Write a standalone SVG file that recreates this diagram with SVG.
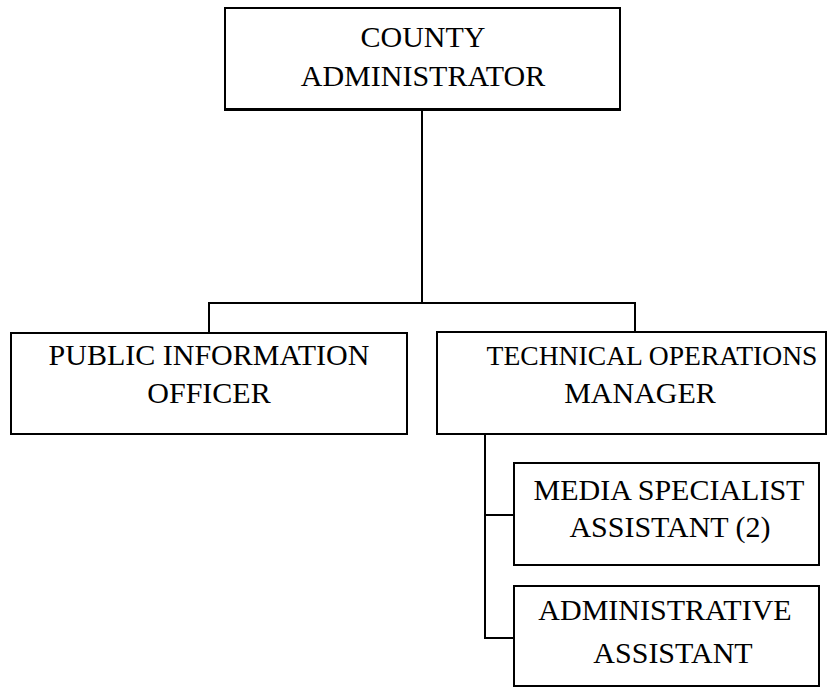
<svg xmlns="http://www.w3.org/2000/svg" width="827" height="688" viewBox="0 0 827 688">
  <style>
    .box { fill: #ffffff; stroke: #000000; stroke-width: 2; }
    .lbl { font-family: "Liberation Serif", "Times New Roman", serif; font-size: 30px; fill: #000000; text-anchor: middle; }
    .tight { font-size: 27.6px; }
    .wire { fill: none; stroke: #000000; stroke-width: 2; }
  </style>
  <rect width="827" height="688" fill="#ffffff"/>

  <!-- reporting lines -->
  <g id="connectors">
    <path class="wire" d="M422 110 V303"/>
    <path class="wire" d="M209 333 V303 H635 V332"/>
    <path class="wire" d="M485 434 V638 H514"/>
    <path class="wire" d="M485 515 H514"/>
  </g>

  <g id="county-administrator">
    <rect class="box" x="225" y="8" width="395" height="101"/>
    <line x1="224" y1="109.5" x2="621" y2="109.5" stroke="#000" stroke-width="3"/>
    <text class="lbl" x="423" y="47">COUNTY</text>
    <text class="lbl" x="423" y="86">ADMINISTRATOR</text>
  </g>

  <g id="public-information-officer">
    <rect class="box" x="11" y="333" width="396" height="101"/>
    <text class="lbl" x="209" y="365">PUBLIC INFORMATION</text>
    <text class="lbl" x="209" y="403">OFFICER</text>
  </g>

  <g id="technical-operations-manager">
    <rect class="box" x="437" y="332" width="389" height="102"/>
    <text class="lbl tight" x="652" y="365">TECHNICAL OPERATIONS</text>
    <text class="lbl" x="640" y="403">MANAGER</text>
  </g>

  <g id="media-specialist-assistant">
    <rect class="box" x="514" y="463" width="305" height="102"/>
    <text class="lbl" x="669" y="500">MEDIA SPECIALIST</text>
    <text class="lbl" x="670" y="537">ASSISTANT (2)</text>
  </g>

  <g id="administrative-assistant">
    <rect class="box" x="514" y="586" width="305" height="100"/>
    <text class="lbl" x="665" y="620">ADMINISTRATIVE</text>
    <text class="lbl" x="673" y="663">ASSISTANT</text>
  </g>
</svg>
